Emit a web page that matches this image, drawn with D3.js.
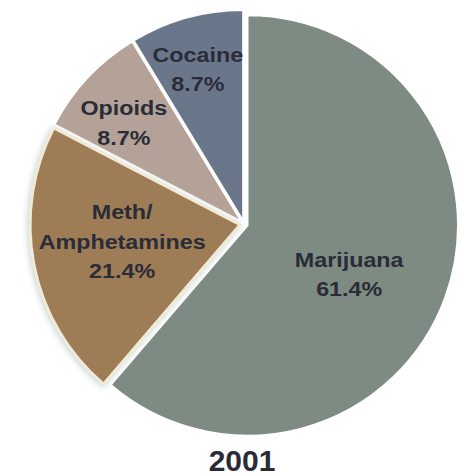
<!DOCTYPE html>
<html><head><meta charset="utf-8">
<script src="https://cdn.jsdelivr.net/npm/d3@7"></script>
<style>html,body{margin:0;padding:0;background:#fff;}svg{display:block;}</style>
</head><body>
<script>
const categories = ["Marijuana", "Meth/\nAmphetamines", "Opioids", "Cocaine"];
const values = [61.4, 21.4, 8.7, 8.7];
const valueLabels = ["61.4%", "21.4%", "8.7%", "8.7%"];
const colors = ["#7e8b82", "#9d7c56", "#b4a298", "#6a778b"];
const title = "2001";

const W = 460, H = 475;
const cx = 244, cy = 224, R = 210, explode = 4;

const svg = d3.select("body").append("svg").attr("width", W).attr("height", H);
const defs = svg.append("defs");
const f = defs.append("filter").attr("id", "glow").attr("x", "-20%").attr("y", "-20%").attr("width", "140%").attr("height", "140%");
f.append("feDropShadow").attr("dx", -1).attr("dy", 1).attr("stdDeviation", 3).attr("flood-color", "#b9cccc").attr("flood-opacity", 0.9);

const data = values.map((v, i) => ({cat: categories[i], v, label: valueLabels[i], color: colors[i], i}));
const pie = d3.pie().value(d => d.v).sort(null);
const arcs = pie(data);
const arc = d3.arc().innerRadius(0).outerRadius(R);

const g = svg.append("g").attr("transform", `translate(${cx},${cy})`);

function offset(a) {
  const m = (a.startAngle + a.endAngle) / 2;
  return [Math.sin(m) * explode, -Math.cos(m) * explode];
}

const order = [0, 2, 3, 1];
order.forEach(k => {
  const a = arcs[k];
  const [ox, oy] = offset(a);
  const hl = k === 1;
  g.append("path")
    .attr("d", arc(a))
    .attr("transform", `translate(${ox},${oy})`)
    .attr("fill", a.data.color)
    .attr("stroke", hl ? "#f1ead6" : "#ffffff")
    .attr("stroke-width", hl ? 3 : 1.5)
    .attr("stroke-linejoin", "round")
    .attr("filter", hl ? "url(#glow)" : null);
});

// label placement (layout): radius fraction and angle shift (degrees) per slice
const labelRadius = [0.536, 0.567, 0.73, 0.75];
const labelShift = [5.4, 3, -3, -1];
const lineH = 29.5, fs = 21;
arcs.forEach((a, i) => {
  const [ox, oy] = offset(a);
  const m = (a.startAngle + a.endAngle) / 2 + labelShift[i] * Math.PI / 180;
  const lr = R * labelRadius[i];
  const x = ox + Math.sin(m) * lr;
  const y = oy - Math.cos(m) * lr;
  const lines = a.data.cat.split("\n").concat([a.data.label]);
  const capH = fs * 0.716;
  const blockH = (lines.length - 1) * lineH + capH;
  const firstBase = y - blockH / 2 + capH;
  const t = g.append("g").attr("transform", `translate(${x},${firstBase}) scale(1.11,1)`);
  lines.forEach((ln, j) => {
    t.append("text")
      .attr("x", 0).attr("y", j * lineH)
      .attr("text-anchor", "middle")
      .attr("font-family", "'Liberation Sans', Arial, sans-serif")
      .attr("font-weight", "bold")
      .attr("font-size", fs)
      .attr("fill", "#2a2c38")
      .text(ln);
  });
});

svg.append("text")
  .attr("x", 242).attr("y", 471)
  .attr("text-anchor", "middle")
  .attr("font-family", "'Liberation Sans', Arial, sans-serif")
  .attr("font-weight", "bold")
  .attr("font-size", 30)
  .attr("fill", "#2b2b38")
  .text(title);
</script>
</body></html>
